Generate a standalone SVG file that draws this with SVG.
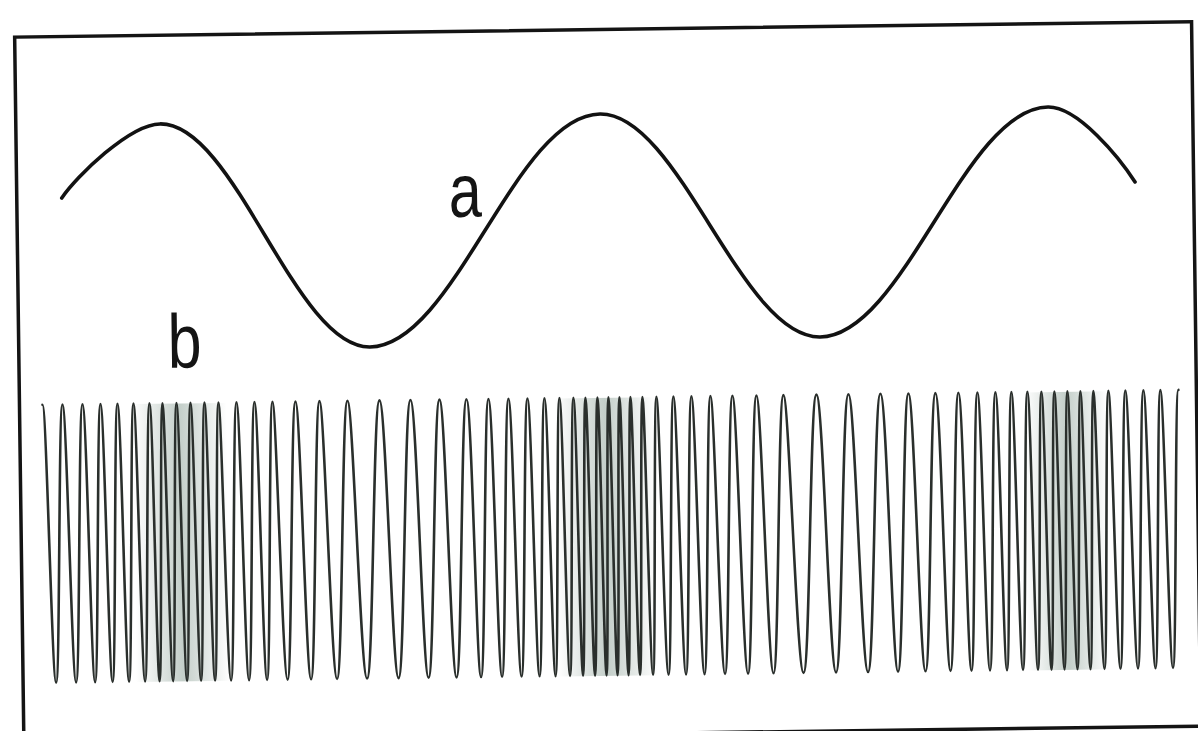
<svg xmlns="http://www.w3.org/2000/svg" width="1198" height="731" viewBox="0 0 1198 731">
<style>
.frame{fill:none;stroke:#141414;stroke-width:3.5}
.sig-a{fill:none;stroke:#121212;stroke-width:3.6;stroke-linecap:round}
.sig-b{fill:none;stroke:#2a2f2c;stroke-width:2.6;stroke-linejoin:round;stroke-linecap:round}
.lbl{font-family:"Liberation Sans",Arial,sans-serif;font-size:76px;fill:#141414}
</style>
<defs>
<linearGradient id="dense" x1="0" y1="0" x2="1" y2="0">
<stop offset="0" stop-color="#557465" stop-opacity="0"/>
<stop offset="0.5" stop-color="#557465" stop-opacity="0.35"/>
<stop offset="1" stop-color="#557465" stop-opacity="0"/>
</linearGradient>
</defs>
<rect width="1198" height="731" fill="#ffffff"/>
<g transform="rotate(-0.75 599 365)">
<g id="frame">
<rect class="frame" x="19" y="29.5" width="1177" height="704.5"/>
</g>
<g id="shading">
<rect x="132" y="398" width="94" height="278" fill="url(#dense)"/>
<rect x="554" y="398" width="100" height="278" fill="url(#dense)"/>
<rect x="1024" y="398" width="82" height="278" fill="url(#dense)"/>
</g>
<g id="signal-a">
<path class="sig-a" d="M64,191 C79,169.5 133,118.2 163.2,118.2 C238.4,118.2 295,344 370.2,344 C454.9,344 518.6,114 603.3,114 C682.2,114 741.5,339.9 820.4,339.9 C904.3,339.9 967.5,112.9 1051.4,112.9 C1081.4,112.9 1122.4,165 1137.4,189"/>
</g>
<g id="signal-b">
<path class="sig-b" d="M42,397.5 c4,0 6,278 10,278 s6,-278 10,-278
s6,278 10,278 s6,-278 10,-278
s5.4,278 9,278 s5.4,-278 9,-278
s5.1,278 8.5,278 s5.1,-278 8.5,-278
s4.8,278 8,278 s4.8,-278 8,-278
s4.8,278 8,278 s4.8,-278 8,-278
s3.9,278 6.5,278 s3.9,-278 6.5,-278
s4.2,278 7,278 s4.2,-278 7,-278
s4.2,278 7,278 s4.2,-278 7,-278
s4.2,278 7,278 s4.2,-278 7,-278
s4.2,278 7,278 s4.2,-278 7,-278
s5.4,278 9,278 s5.4,-278 9,-278
s5.4,278 9,278 s5.4,-278 9,-278
s5.4,278 9,278 s5.4,-278 9,-278
s6.9,278 11.5,278 s6.9,-278 11.5,-278
s7.2,278 12,278 s7.2,-278 12,-278
s8.4,278 14,278 s8.4,-278 14,-278
s9.6,278 16,278 s9.6,-278 16,-278
s9.3,278 15.5,278 s9.3,-278 15.5,-278
s8.7,278 14.5,278 s8.7,-278 14.5,-278
s8.1,278 13.5,278 s8.1,-278 13.5,-278
s6.6,278 11,278 s6.6,-278 11,-278
s6,278 10,278 s6,-278 10,-278
s5.7,278 9.5,278 s5.7,-278 9.5,-278
s5.1,278 8.5,278 s5.1,-278 8.5,-278
s4.5,278 7.5,278 s4.5,-278 7.5,-278
s4.2,278 7,278 s4.2,-278 7,-278
s3.6,278 6,278 s3.6,-278 6,-278
s3.6,278 6,278 s3.6,-278 6,-278
s3.3,278 5.5,278 s3.3,-278 5.5,-278
s3.3,278 5.5,278 s3.3,-278 5.5,-278
s3.3,278 5.5,278 s3.3,-278 5.5,-278
s3.6,278 6,278 s3.6,-278 6,-278
s4.2,278 7,278 s4.2,-278 7,-278
s5.1,278 8.5,278 s5.1,-278 8.5,-278
s5.4,278 9,278 s5.4,-278 9,-278
s5.7,278 9.5,278 s5.7,-278 9.5,-278
s6.6,278 11,278 s6.6,-278 11,-278
s7.2,278 12,278 s7.2,-278 12,-278
s8.1,278 13.5,278 s8.1,-278 13.5,-278
s9.9,278 16.5,278 s9.9,-278 16.5,-278
s9.6,278 16,278 s9.6,-278 16,-278
s9.6,278 16,278 s9.6,-278 16,-278
s8.4,278 14,278 s8.4,-278 14,-278
s8.1,278 13.5,278 s8.1,-278 13.5,-278
s6.9,278 11.5,278 s6.9,-278 11.5,-278
s5.7,278 9.5,278 s5.7,-278 9.5,-278
s5.4,278 9,278 s5.4,-278 9,-278
s4.8,278 8,278 s4.8,-278 8,-278
s4.8,278 8,278 s4.8,-278 8,-278
s4.2,278 7,278 s4.2,-278 7,-278
s3.9,278 6.5,278 s3.9,-278 6.5,-278
s3.9,278 6.5,278 s3.9,-278 6.5,-278
s3.9,278 6.5,278 s3.9,-278 6.5,-278
s3.9,278 6.5,278 s3.9,-278 6.5,-278
s4.5,278 7.5,278 s4.5,-278 7.5,-278
s5.1,278 8.5,278 s5.1,-278 8.5,-278
s5.4,278 9,278 s5.4,-278 9,-278
s5.1,278 8.5,278 s5.1,-278 8.5,-278
s5.4,278 9,278 s5.4,-278 9,-278"/>
</g>
<g id="labels">
<text class="lbl" transform="translate(451 215) scale(0.78 1)">a</text>
<text class="lbl" transform="translate(168 362) scale(0.8 1)">b</text>
</g>
</g>
</svg>
